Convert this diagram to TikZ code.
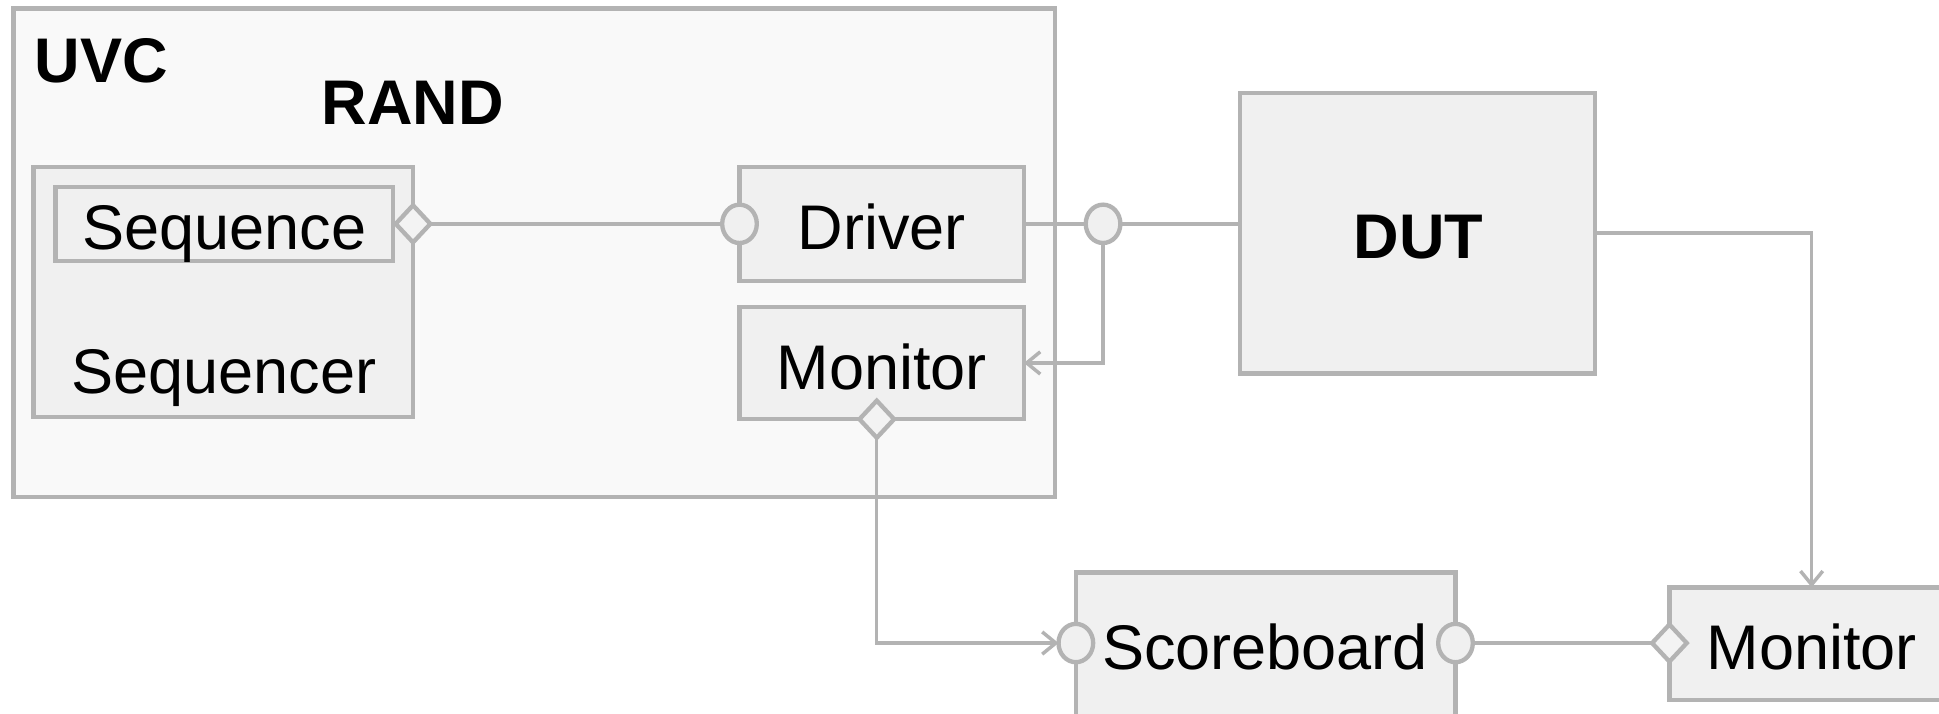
\documentclass[tikz,border=0pt]{standalone}
\usepackage{fontspec}
\setmainfont{Liberation Sans}
\usetikzlibrary{arrows.meta,shapes.geometric,calc}
\definecolor{edge}{HTML}{B3B3B3}
\definecolor{boxfill}{HTML}{F0F0F0}
\definecolor{envfill}{HTML}{F9F9F9}
\definecolor{tipfill}{HTML}{F3F3F3}
\tikzset{
  blk/.style={draw=edge, fill=boxfill, line width=3.5pt, inner sep=0pt, outer sep=0pt},
  env/.style={draw=edge, fill=envfill, line width=3.5pt},
  lbl/.style={inner sep=0pt, anchor=base, font=\fontsize{51}{61}\selectfont},
  bold lbl/.style={lbl, font=\fontsize{51}{61}\selectfont\bfseries},
  port/.style={ellipse, draw=edge, fill=boxfill, line width=3.5pt, minimum width=28pt, minimum height=31pt, inner sep=0pt, outer sep=0pt},
  agg/.style={diamond, draw=edge, fill=tipfill, line width=3.5pt, minimum width=28pt, minimum height=30pt, inner sep=0pt, outer sep=0pt},
  wire/.style={draw=edge, line width=2.8pt},
  flow/.style={wire, -{Straight Barb[length=11pt,width=18pt]}},
}
\begin{document}
\begin{tikzpicture}[x=1pt, y=-1pt]
\clip (0,0) rectangle (1568,577);
\fill[white] (0,0) rectangle (1568,577);

% verification component frame
\draw[env] (11,7) rectangle (853,402);
\node[bold lbl, anchor=base west] (uvc) at (28,67) {UVC};
\node[bold lbl, anchor=base west] (rand) at (260,101) {RAND};

% sequencer with nested sequence
\node[blk, minimum width=307pt, minimum height=202pt] (sqr) at (180.5,236) {};
\node[blk, minimum width=273pt, minimum height=60pt] (seq) at (181.5,181) {};
\node[lbl] (seqt) at (181.5,202) {Sequence};
\node[lbl] (sqrt) at (181,318) {Sequencer};

% driver and monitor
\node[blk, minimum width=230pt, minimum height=92pt] (drv) at (713,181) {};
\node[lbl] (drvt) at (713,202) {Driver};
\node[blk, minimum width=230pt, minimum height=91pt] (mon) at (713,293.5) {};
\node[lbl] (mont) at (713,315) {Monitor};

% design under test
\node[blk, minimum width=287pt, minimum height=227pt] (dut) at (1146.5,188.5) {};
\node[bold lbl] (dutt) at (1147,209) {DUT};

% scoreboard and passive monitor
\node[blk, minimum width=307pt, minimum height=116pt] (sb) at (1023.5,521) {};
\node[lbl] (sbt) at (1023,541) {Scoreboard};
\node[blk, minimum width=230pt, minimum height=91pt] (mon2) at (1465,520.5) {};
\node[lbl] (mon2t) at (1465,541) {Monitor};

% ports and aggregation markers
\node[agg] (sqrd) at (334,181) {};
\node[port] (drvp) at (598,181) {};
\node[port] (dutp) at (892,181) {};
\node[agg] (mond) at (709,339) {};
\node[port] (sbin) at (870,520) {};
\node[port] (sbout) at (1177,520) {};
\node[agg] (mon2d) at (1350,520) {};

% connectors
\draw[wire, line width=3pt] (sqrd.east) -- (drvp.west);
\draw[wire, line width=3pt] (drv.east |- dutp.west) -- (dutp.west);
\draw[wire, line width=3pt] (dutp.east) -- (dutp.east -| dut.west);
\draw[flow] (dutp.south) |- (mon.east);
\draw[flow] (mond.south) |- (sbin.west);
\draw[wire, line width=3.5pt] (sbout.east) -- (mon2d.west);
\draw[flow] (dut.east) -| (mon2.north);
\end{tikzpicture}
\end{document}
